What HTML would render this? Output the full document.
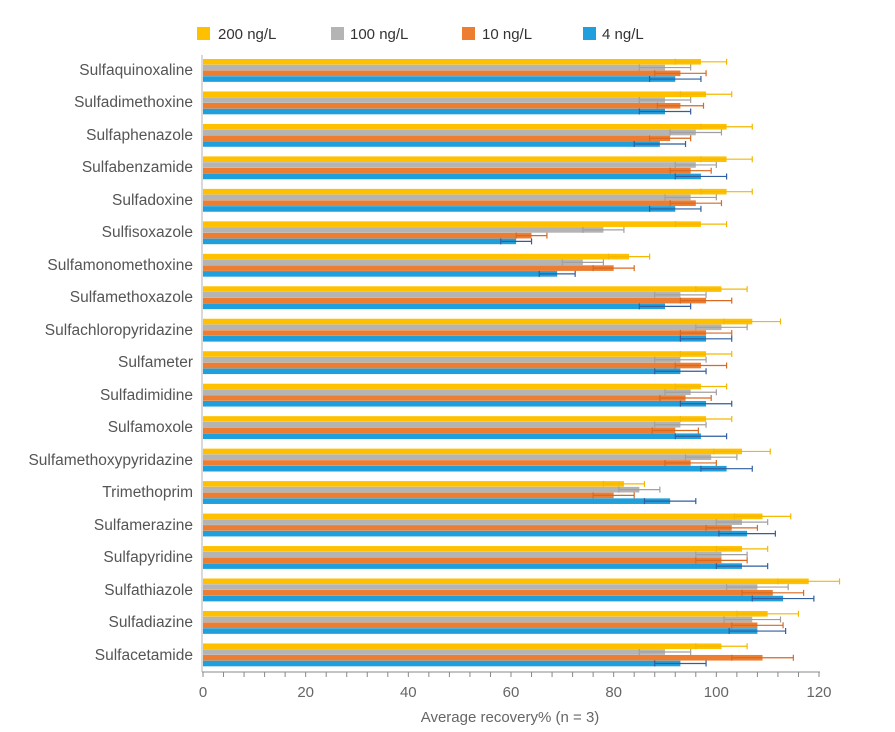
<!DOCTYPE html>
<html><head><meta charset="utf-8"><style>
body{margin:0;background:#fff;}
svg{display:block;font-family:"Liberation Sans",sans-serif;}
</style></head><body>
<svg id="c" width="895" height="732" viewBox="0 0 895 732" xmlns="http://www.w3.org/2000/svg">
<g font-size="15" fill="#333">
<rect x="197" y="27" width="13" height="13" fill="#FFC000"/><text x="218" y="39">200 ng/L</text>
<rect x="331" y="27" width="13" height="13" fill="#B4B4B4"/><text x="350" y="39">100 ng/L</text>
<rect x="462" y="27" width="13" height="13" fill="#ED7D31"/><text x="482" y="39">10 ng/L</text>
<rect x="583" y="27" width="13" height="13" fill="#1F9FDB"/><text x="602" y="39">4 ng/L</text>
</g>
<g font-size="15.5" fill="#555" text-anchor="end">
<text x="193" y="75">Sulfaquinoxaline</text>
<text x="193" y="107">Sulfadimethoxine</text>
<text x="193" y="140">Sulfaphenazole</text>
<text x="193" y="172">Sulfabenzamide</text>
<text x="193" y="205">Sulfadoxine</text>
<text x="193" y="237">Sulfisoxazole</text>
<text x="193" y="270">Sulfamonomethoxine</text>
<text x="193" y="302">Sulfamethoxazole</text>
<text x="193" y="335">Sulfachloropyridazine</text>
<text x="193" y="367">Sulfameter</text>
<text x="193" y="400">Sulfadimidine</text>
<text x="193" y="432">Sulfamoxole</text>
<text x="193" y="465">Sulfamethoxypyridazine</text>
<text x="193" y="497">Trimethoprim</text>
<text x="193" y="530">Sulfamerazine</text>
<text x="193" y="562">Sulfapyridine</text>
<text x="193" y="595">Sulfathiazole</text>
<text x="193" y="627">Sulfadiazine</text>
<text x="193" y="660">Sulfacetamide</text>
</g>
<g id="bars"></g>
<line x1="202" y1="55" x2="202" y2="672" stroke="#d9d9d9" stroke-width="2"/>
<line x1="202" y1="672" x2="820" y2="672" stroke="#888" stroke-width="1"/>
<g id="ticks" stroke="#888"></g>
<g font-size="15" fill="#666" text-anchor="middle">
<text x="203" y="697">0</text><text x="305.7" y="697">20</text><text x="408.3" y="697">40</text>
<text x="511" y="697">60</text><text x="613.7" y="697">80</text><text x="716.3" y="697">100</text><text x="819" y="697">120</text>
<text x="510" y="722">Average recovery% (n = 3)</text>
</g>
</svg>
<script>
var d=[[97,5,90,5,93,5,92,5],[98,5,90,5,93,4.5,90,5],[102,5,96,5,91,4,89,5],[102,5,96,4,95,4,97,5],[102,5,95,5,96,5,92,5],[97,5,78,4,64,3,61,3],[83,4,74,4,80,4,69,3.5],[101,5,93,5,98,5,90,5],[107,5.5,101,5,98,5,98,5],[98,5,93,5,97,5,93,5],[97,5,95,5,94,5,98,5],[98,5,93,5,92,4.5,97,5],[105,5.5,99,5,95,5,102,5],[82,4,85,4,80,4,91,5],[109,5.5,105,5,103,5,106,5.5],[105,5,101,5,101,5,105,5],[118,6,108,6,111,6,113,6],[110,6,107,5.5,108,5,108,5.5],[101,5,90,5,109,6,93,5]];
var col=["#FFC000","#B4B4B4","#ED7D31","#1F9FDB"],ec=["#F5B800","#A0A0A0","#D86A20","#2F5FA0"];
var s=5.1333,x0=203,h="";
d.forEach(function(r,i){var top=59+i*32.47;for(var k=0;k<4;k++){var y=top+k*5.75,v=r[2*k],e=r[2*k+1];
h+='<rect x="'+x0+'" y="'+y.toFixed(2)+'" width="'+(v*s).toFixed(2)+'" height="5.6" fill="'+col[k]+'"/>';
var cy=y+2.8,a=x0+(v-e)*s,b=x0+(v+e)*s;
h+='<path d="M'+a+' '+cy+'H'+b+'M'+a+' '+(cy-3)+'V'+(cy+3)+'M'+b+' '+(cy-3)+'V'+(cy+3)+'" stroke="'+ec[k]+'" stroke-width="1.2" fill="none"/>';}});
document.getElementById('bars').innerHTML=h;
var t="";for(var v=0;v<=120;v+=4){var x=x0+v*s;t+='<line x1="'+x+'" y1="672" x2="'+x+'" y2="677"/>';}
document.getElementById('ticks').innerHTML=t;
</script>
</body></html>
